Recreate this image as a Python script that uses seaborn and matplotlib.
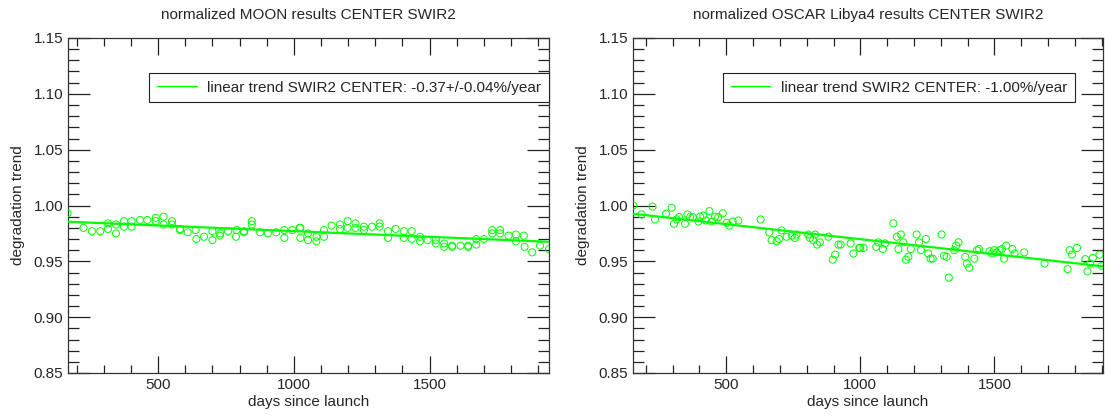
import matplotlib
matplotlib.use("Agg")
import matplotlib.pyplot as plt
import seaborn as sns
import pandas as pd
from matplotlib.ticker import MultipleLocator, FormatStrFormatter

# ---------------- data ----------------
moon_days = [166, 225, 256, 287, 315, 315, 345, 345, 374, 374, 402, 402, 433, 460,
             491, 491, 520, 520, 551, 551, 581, 581, 609, 638, 641, 669, 700, 700,
             727, 729, 758, 787, 789, 816, 816, 845, 845, 876, 904, 935, 965, 965,
             994, 1022, 1024, 1024, 1052, 1052, 1083, 1083, 1111, 1111, 1139, 1170,
             1170, 1198, 1198, 1227, 1227, 1258, 1258, 1288, 1316, 1316, 1347, 1347,
             1375, 1405, 1405, 1434, 1434, 1465, 1465, 1493, 1523, 1523, 1554, 1554,
             1583, 1583, 1614, 1642, 1642, 1672, 1672, 1700, 1731, 1731, 1760, 1760,
             1791, 1818, 1818, 1847, 1850, 1878, 1907, 1940]
moon_vals = [0.993, 0.980, 0.977, 0.977, 0.979, 0.984, 0.975, 0.983, 0.981, 0.986,
             0.981, 0.986, 0.987, 0.987, 0.986, 0.989, 0.990, 0.983, 0.986, 0.983,
             0.979, 0.978, 0.976, 0.978, 0.970, 0.972, 0.969, 0.977, 0.973, 0.975,
             0.977, 0.972, 0.978, 0.976, 0.977, 0.986, 0.983, 0.976, 0.975, 0.976,
             0.978, 0.971, 0.978, 0.980, 0.971, 0.980, 0.975, 0.969, 0.968, 0.972,
             0.972, 0.978, 0.982, 0.983, 0.979, 0.986, 0.980, 0.984, 0.980, 0.978,
             0.981, 0.981, 0.984, 0.981, 0.977, 0.971, 0.979, 0.977, 0.971, 0.977,
             0.970, 0.972, 0.968, 0.969, 0.969, 0.966, 0.966, 0.963, 0.964, 0.963,
             0.964, 0.964, 0.963, 0.965, 0.970, 0.970, 0.978, 0.975, 0.978, 0.975,
             0.973, 0.974, 0.968, 0.973, 0.963, 0.958, 0.964, 0.961]
moon_trend_days = [166, 1940]
moon_trend_vals = [0.9855, 0.9675]

oscar_days = [153, 184, 225, 234, 275, 296, 305, 315, 324, 346, 355, 365, 375, 396,
              402, 414, 424, 437, 446, 458, 470, 487, 502, 511, 524, 545, 628, 660,
              669, 688, 697, 706, 725, 744, 756, 762, 805, 812, 824, 831, 839, 849,
              881, 897, 906, 918, 927, 964, 974, 996, 999, 1012, 1059, 1067, 1084,
              1092, 1123, 1136, 1142, 1151, 1160, 1170, 1179, 1188, 1210, 1219, 1226,
              1245, 1253, 1262, 1270, 1303, 1312, 1322, 1330, 1350, 1357, 1366, 1391,
              1397, 1406, 1425, 1435, 1443, 1482, 1491, 1499, 1509, 1519, 1528, 1536,
              1544, 1567, 1575, 1611, 1687, 1773, 1780, 1789, 1808, 1839, 1847, 1857,
              1867, 1892, 1900]
oscar_vals = [1.000, 0.992, 0.999, 0.9875, 0.9926, 0.998, 0.9836, 0.9875, 0.9896,
              0.9836, 0.992, 0.9896, 0.9896, 0.9857, 0.990, 0.991, 0.9866, 0.995,
              0.9857, 0.990, 0.9896, 0.993, 0.9845, 0.982, 0.9857, 0.9866, 0.9875,
              0.976, 0.969, 0.968, 0.970, 0.9777, 0.972, 0.973, 0.971, 0.974, 0.974,
              0.971, 0.969, 0.974, 0.965, 0.967, 0.972, 0.9515, 0.956, 0.965, 0.965,
              0.966, 0.957, 0.962, 0.962, 0.962, 0.963, 0.967, 0.961, 0.966, 0.984,
              0.972, 0.961, 0.974, 0.967, 0.9515, 0.954, 0.961, 0.974, 0.967, 0.960,
              0.970, 0.957, 0.9524, 0.9524, 0.974, 0.955, 0.954, 0.9354, 0.960, 0.964,
              0.967, 0.954, 0.948, 0.9443, 0.9524, 0.960, 0.961, 0.959, 0.957, 0.960,
              0.958, 0.960, 0.961, 0.9524, 0.964, 0.961, 0.957, 0.958, 0.948, 0.943,
              0.960, 0.956, 0.962, 0.952, 0.941, 0.948, 0.953, 0.956, 0.946]
oscar_trend_days = [153, 1905]
oscar_trend_vals = [0.9926, 0.9455]

titles = ["normalized MOON results CENTER SWIR2",
          "normalized OSCAR Libya4 results CENTER SWIR2"]
legend_labels = ["linear trend SWIR2 CENTER: -0.37+/-0.04%/year",
                 "linear trend SWIR2 CENTER: -1.00%/year"]
xlims = [(168, 1940), (152, 1905)]
ylim = (0.85, 1.15)
xlabel = "days since launch"
ylabel = "degradation trend"

# ---------------- style ----------------
sns.set_theme(style="ticks")
plt.rcParams["font.family"] = ["Liberation Sans", "DejaVu Sans"]
plt.rcParams["font.size"] = 11
GREEN = "#00ff00"

fig = plt.figure(figsize=(11.05, 4.17), dpi=100)
W, H = 1105, 417
ax_boxes = [(68, 549), (633, 1103)]
top_px, bot_px = 38, 373
legend_right_px = [549, 1075]

datasets = [(moon_days, moon_vals, moon_trend_days, moon_trend_vals),
            (oscar_days, oscar_vals, oscar_trend_days, oscar_trend_vals)]

for i, ((x0, x1), (d, v, td, tv)) in enumerate(zip(ax_boxes, datasets)):
    ax = fig.add_axes([x0 / W, (H - bot_px) / H, (x1 - x0) / W, (bot_px - top_px) / H])
    pts = pd.DataFrame({"days": d, "val": v})
    trend = pd.DataFrame({"days": td, "val": tv})
    sns.scatterplot(data=pts, x="days", y="val", ax=ax, marker="o", s=26,
                    facecolors="none", edgecolor=GREEN, linewidth=0.7, zorder=3)
    sns.lineplot(data=trend, x="days", y="val", ax=ax, color=GREEN, linewidth=1.6,
                 label=legend_labels[i], zorder=4)
    ax.set_xlim(*xlims[i])
    ax.set_ylim(*ylim)
    ax.set_xlabel(xlabel, fontsize=11, labelpad=2)
    ax.set_ylabel(ylabel, fontsize=11, labelpad=6)
    ax.set_title(titles[i], fontsize=11, pad=14)
    ax.xaxis.set_major_locator(MultipleLocator(500))
    ax.xaxis.set_minor_locator(MultipleLocator(100))
    ax.yaxis.set_major_locator(MultipleLocator(0.05))
    ax.yaxis.set_minor_locator(MultipleLocator(0.01))
    ax.yaxis.set_major_formatter(FormatStrFormatter("%.2f"))
    ax.tick_params(axis="both", which="both", direction="in", top=True, right=True,
                   color="#222222", width=0.9, labelsize=11)
    ax.tick_params(axis="y", which="major", length=16)
    ax.tick_params(axis="y", which="minor", length=8)
    ax.tick_params(axis="x", which="major", length=12)
    ax.tick_params(axis="x", which="minor", length=6)
    for sp in ax.spines.values():
        sp.set_color("#333333")
        sp.set_linewidth(0.9)
    leg_top = (bot_px - 73) / (bot_px - top_px)
    leg_right = (legend_right_px[i] - x0) / (x1 - x0)
    leg = ax.legend(loc="upper right", bbox_to_anchor=(leg_right, leg_top),
                    borderaxespad=0, fancybox=False, framealpha=1, edgecolor="#222222",
                    fontsize=11, handlelength=2.6, handletextpad=0.7, borderpad=0.5)
    leg.get_frame().set_linewidth(0.8)
    for line in leg.get_lines():
        line.set_linewidth(1.0)

fig.savefig("out.png", dpi=100)
